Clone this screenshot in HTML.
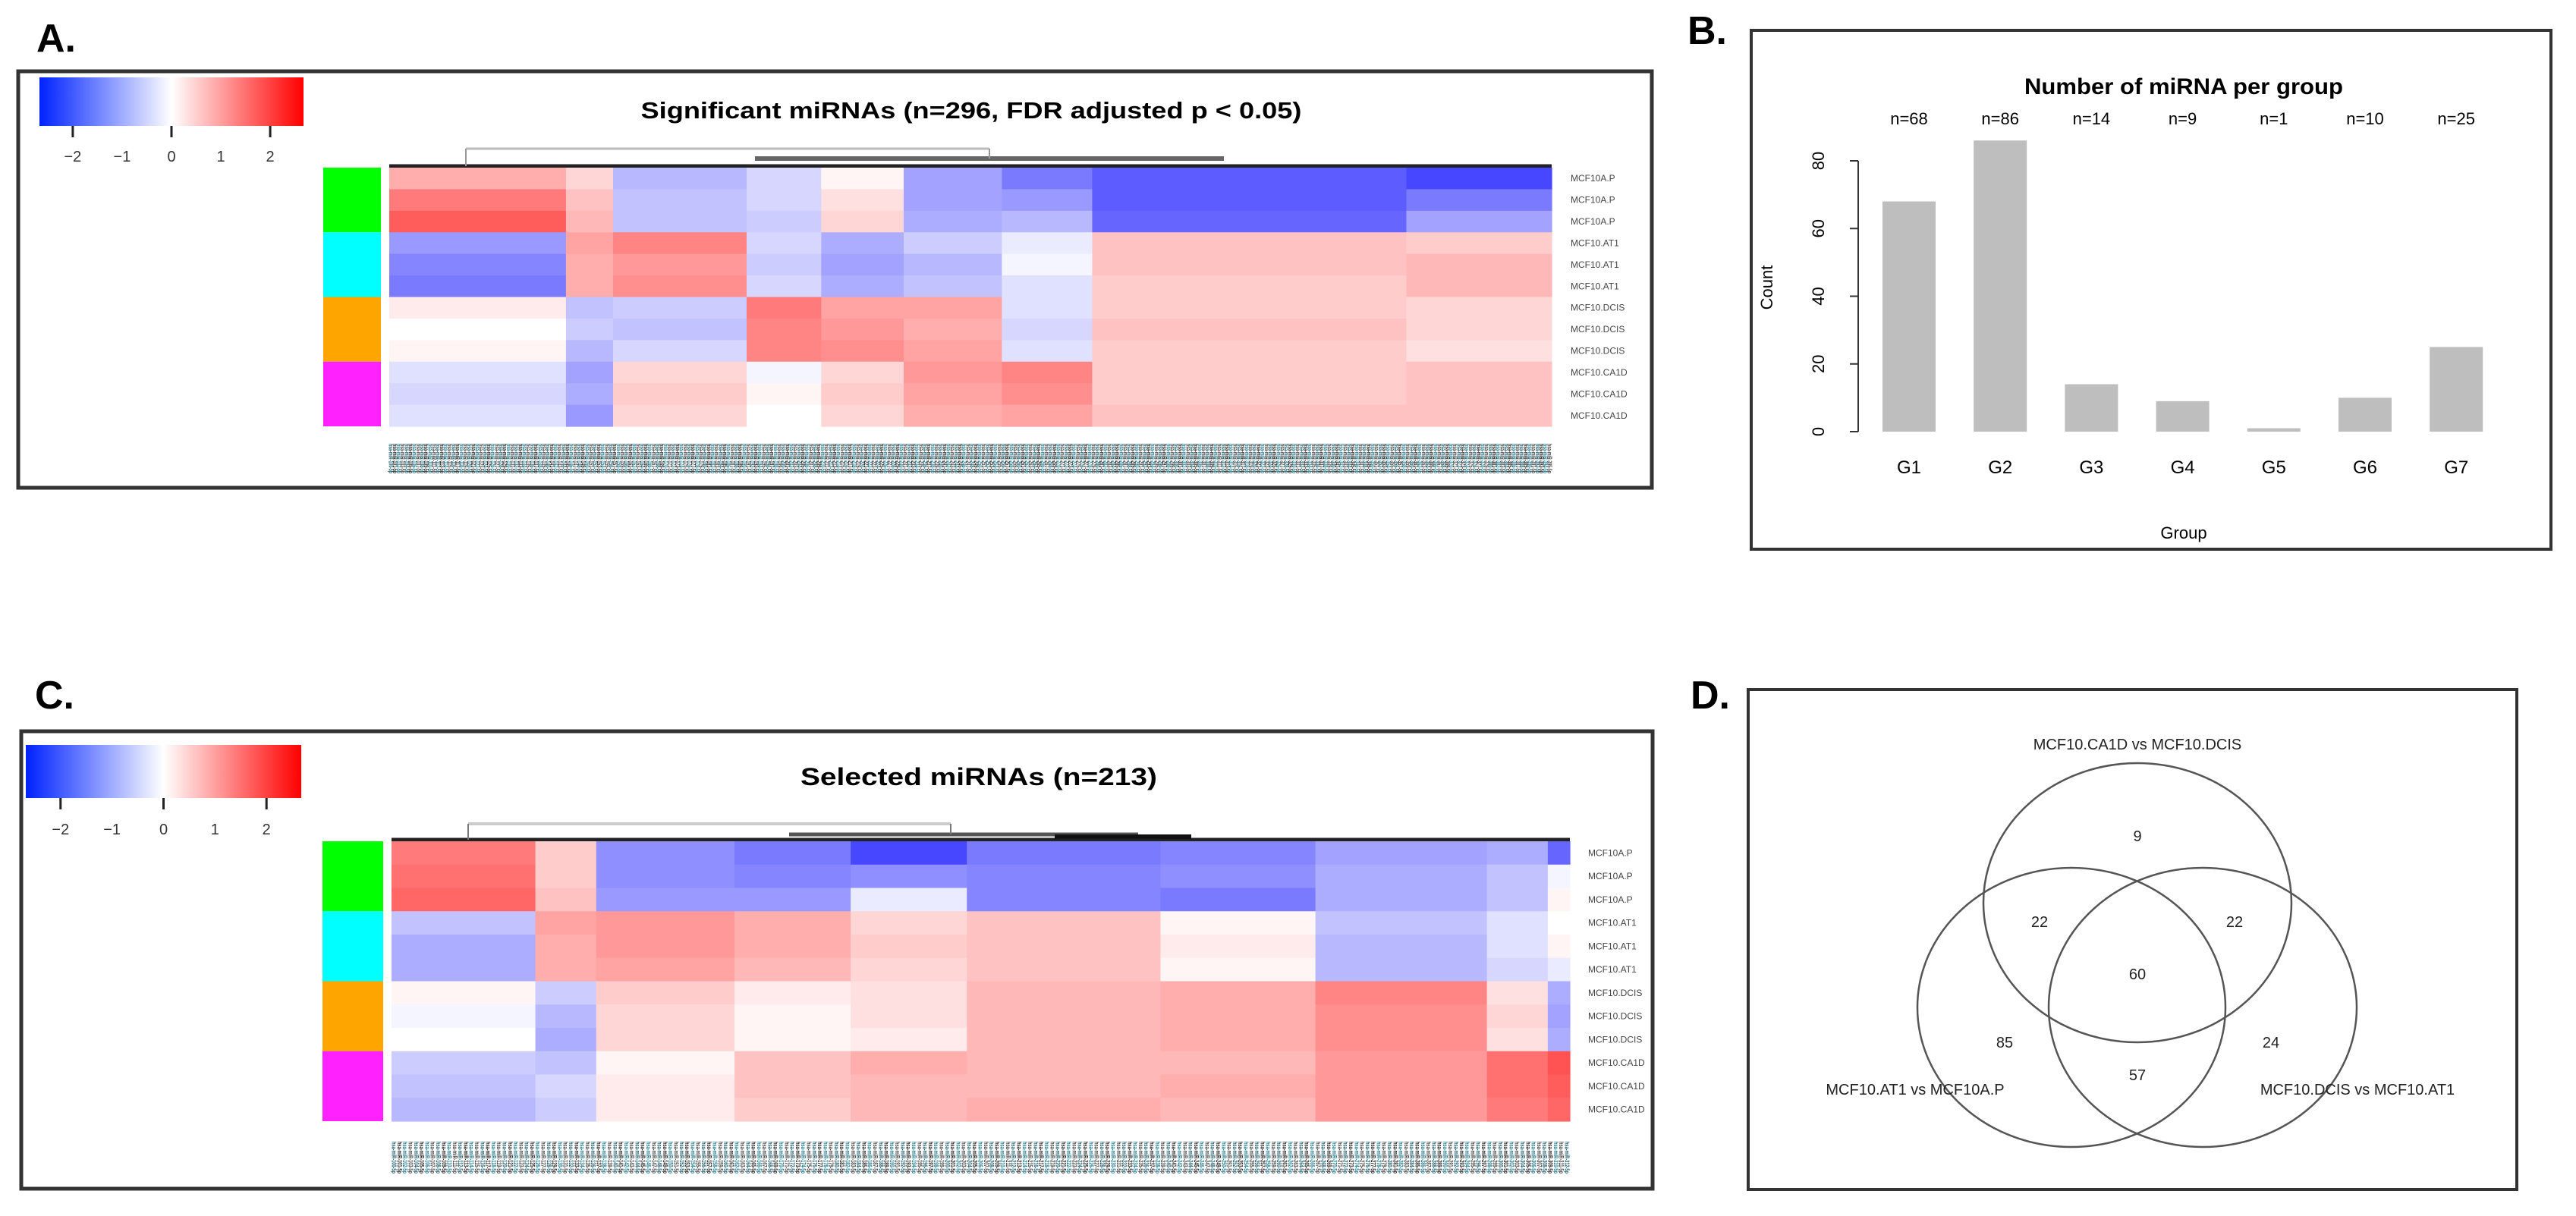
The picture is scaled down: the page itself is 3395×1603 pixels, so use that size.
<!DOCTYPE html>
<html><head><meta charset="utf-8"><style>
html,body{margin:0;padding:0;background:#fff;}
svg{display:block;font-family:"Liberation Sans",sans-serif;}
</style></head><body>
<svg id="fig" width="3395" height="1603" viewBox="0 0 3395 1603" xmlns="http://www.w3.org/2000/svg">
<defs>
<linearGradient id="cbar" x1="0" x2="1" y1="0" y2="0">
<stop offset="0" stop-color="#0022ff"/><stop offset="0.5" stop-color="#ffffff"/><stop offset="1" stop-color="#ff0000"/>
</linearGradient>
</defs>
<text x="48" y="68" font-size="52" font-weight="bold">A.</text>
<text x="2224" y="58" font-size="52" font-weight="bold">B.</text>
<text x="46" y="934" font-size="52" font-weight="bold">C.</text>
<text x="2228" y="934" font-size="52" font-weight="bold">D.</text>

<g>
<rect x="24" y="94" width="2153" height="549" fill="none" stroke="#333" stroke-width="5"/>
<rect x="52" y="102" width="348" height="64" fill="url(#cbar)"/>
<g id="keyA"></g>
<text x="1280" y="156" font-size="31" font-weight="bold" text-anchor="middle" textLength="871" lengthAdjust="spacingAndGlyphs">Significant miRNAs (n=296, FDR adjusted p &lt; 0.05)</text>
<g id="dendA"></g>
<g id="sideA"></g>
<g id="heatA"></g>
<g id="rowsA"></g>
<g id="colsA"></g>
</g>

<g>
<rect x="28" y="964" width="2150" height="603" fill="none" stroke="#333" stroke-width="5"/>
<rect x="34" y="982" width="363" height="70" fill="url(#cbar)"/>
<g id="keyC"></g>
<text x="1290" y="1035" font-size="32" font-weight="bold" text-anchor="middle" textLength="470" lengthAdjust="spacingAndGlyphs">Selected miRNAs (n=213)</text>
<g id="dendC"></g>
<g id="sideC"></g>
<g id="heatC"></g>
<g id="rowsC"></g>
<g id="colsC"></g>
</g>

<g>
<rect x="2308" y="40" width="1054" height="684" fill="none" stroke="#333" stroke-width="4"/>
<text x="2878" y="124" font-size="30" font-weight="bold" text-anchor="middle" textLength="420" lengthAdjust="spacingAndGlyphs">Number of miRNA per group</text>
<g id="barsB"></g>
<text x="2336" y="379" font-size="22" text-anchor="middle" transform="rotate(-90 2336 379)">Count</text>
<text x="2878" y="710" font-size="22" text-anchor="middle">Group</text>
</g>

<g>
<rect x="2304" y="909" width="1013" height="659" fill="none" stroke="#333" stroke-width="4"/>
<g id="venn"></g>
</g>
</svg>
<script>
const groupNames = ["G1","G2","G3","G4","G5","G6","G7"];
const groupCounts = [68,86,14,9,1,10,25];
const yTicksB = [0,20,40,60,80];

const rowLabelsA = ["MCF10A.P","MCF10A.P","MCF10A.P","MCF10.AT1","MCF10.AT1","MCF10.AT1","MCF10.DCIS","MCF10.DCIS","MCF10.DCIS","MCF10.CA1D","MCF10.CA1D","MCF10.CA1D"];
const groupColors = ["#00ff00","#00ffff","#ffa500","#ff22ff"];
const keyTicks = [-2,-1,0,1,2];

const heatABlockCols = [45,12,34,19,21,25,23,80,37];
const heatAValues = [
 [0.8,1.3,1.6,-1.0,-1.2,-1.3,0.2,0.0,0.1,-0.3,-0.4,-0.3],
 [0.4,0.6,0.7,0.9,0.8,0.8,-0.6,-0.5,-0.7,-0.9,-0.8,-1.0],
 [-0.7,-0.6,-0.6,1.2,1.0,1.1,-0.5,-0.6,-0.4,0.4,0.5,0.4],
 [-0.4,-0.4,-0.5,-0.4,-0.5,-0.4,1.3,1.2,1.2,-0.1,0.1,0.0],
 [0.1,0.3,0.4,-0.8,-0.9,-0.8,0.9,1.0,1.1,0.4,0.5,0.4],
 [-0.9,-0.9,-0.8,-0.5,-0.7,-0.6,0.9,0.8,0.9,1.0,0.9,0.8],
 [-1.3,-1.0,-0.7,-0.2,-0.1,-0.3,-0.3,-0.4,-0.3,1.2,1.1,0.9],
 [-1.6,-1.6,-1.5,0.6,0.6,0.5,0.5,0.6,0.5,0.5,0.5,0.6],
 [-1.8,-1.3,-0.9,0.5,0.7,0.7,0.4,0.4,0.3,0.6,0.6,0.6]
];
const heatCBlockCols = [26,11,25,21,21,35,28,31,11,4];
const heatCValues = [
 [1.3,1.4,1.5,-0.6,-0.8,-0.8,0.1,-0.1,0.0,-0.5,-0.6,-0.7],
 [0.5,0.5,0.6,0.9,0.8,0.8,-0.5,-0.7,-0.8,-0.6,-0.4,-0.5],
 [-1.1,-1.1,-1.0,1.0,1.0,0.9,0.5,0.4,0.4,0.1,0.2,0.2],
 [-1.3,-1.2,-1.0,0.8,0.8,0.7,0.2,0.1,0.1,0.6,0.6,0.5],
 [-1.8,-1.1,-0.2,0.4,0.5,0.4,0.3,0.3,0.2,0.8,0.7,0.7],
 [-1.3,-1.2,-1.2,0.6,0.6,0.6,0.7,0.7,0.7,0.7,0.7,0.8],
 [-1.2,-1.1,-1.3,0.1,0.2,0.1,0.8,0.8,0.8,0.7,0.8,0.7],
 [-0.9,-0.8,-0.8,-0.6,-0.7,-0.7,1.2,1.1,1.1,1.0,1.0,1.0],
 [-0.8,-0.6,-0.6,-0.3,-0.3,-0.4,0.3,0.4,0.3,1.4,1.4,1.3],
 [-1.5,-0.1,0.1,0.0,0.1,-0.2,-0.8,-0.9,-0.8,1.7,1.6,1.5]
];

const vennSetLabels = ["MCF10.CA1D vs MCF10.DCIS","MCF10.AT1 vs MCF10A.P","MCF10.DCIS vs MCF10.AT1"];
const vennCounts = [9,22,22,60,85,24,57];

const NS = "http://www.w3.org/2000/svg";
function mk(tag, attrs, parent){
  const e = document.createElementNS(NS, tag);
  for (const k in attrs) e.setAttribute(k, attrs[k]);
  if (parent) parent.appendChild(e);
  return e;
}
function colorOf(v){
  const c = Math.max(-2.5, Math.min(2.5, v)); const t = Math.abs(c)/2.5;
  const m = Math.round(255*(1-t));
  return c < 0 ? `rgb(${m},${m},255)` : `rgb(255,${m},${m})`;
}

function colorKey(gId, x0, x1, yTop, labelY){
  const g = document.getElementById(gId);
  const scale = v => (x0+x1)/2 + v*(x1-x0)/5.35;
  keyTicks.forEach((v,i)=>{
    if (i%2===0){
      const t = mk('line',{x1:scale(v),x2:scale(v),y1:yTop,y2:yTop+15,stroke:'#222','stroke-width':3},g);
      
      
    }
    const tx = mk('text',{x:scale(v),y:labelY,'font-size':20,'text-anchor':'middle',fill:'#333'},g);
    tx.textContent = v===0 ? "0" : (v<0 ? "\u2212"+(-v) : String(v));
    
    
  });
}
colorKey('keyA', 52, 400, 166, 213);
colorKey('keyC', 34, 397, 1052, 1100);

function heatmap(ids, blockCols, values, x0, x1, y0, y1, sideX0, sideX1, labelX, colY0, colY1){
  const total = blockCols.reduce((a,b)=>a+b,0);
  const cw = (x1-x0)/total, rh = (y1-y0)/12;
  const gH = document.getElementById(ids[0]);
  let col = 0;
  blockCols.forEach((n,b)=>{
    values[b].forEach((v,r)=>{
      const c = mk('rect',{x:x0+col*cw,y:y0+r*rh,width:n*cw+0.6,height:rh+0.6,fill:colorOf(v)},gH);
      
      
    });
    col += n;
  });
  const gS = document.getElementById(ids[1]);
  groupColors.forEach((c,i)=>{
    const r = mk('rect',{x:sideX0,y:y0+i*3*rh,width:sideX1-sideX0,height:3*rh,fill:c},gS);
    
    
  });
  const gR = document.getElementById(ids[2]);
  rowLabelsA.forEach((l,i)=>{
    const t = mk('text',{x:labelX,y:y0+(i+0.5)*rh+4,'font-size':12,fill:'#444'},gR);
    t.textContent = l;
    
    
  });
  const gC = document.getElementById(ids[3]);
  const fills = ['#1f5f70','#222','#1f7a90','#444'];
  for (let i=0;i<total;i++){
    const cx = x0+(i+0.5)*cw - 3;
    const t = mk('text',{x:cx,y:colY0,'font-size':8,'font-weight':'bold',fill:fills[i%4],transform:`rotate(90 ${cx} ${colY0})`,textLength:colY1-colY0,lengthAdjust:'spacingAndGlyphs'},gC);
    t.textContent = "hsa-miR-"+(100+i)+"-5p";
    
    
  }
}
heatmap(['heatA','sideA','rowsA','colsA'], heatABlockCols, heatAValues, 513, 2045, 221, 562, 426, 502, 2070, 585, 624);
heatmap(['heatC','sideC','rowsC','colsC'], heatCBlockCols, heatCValues, 516, 2069, 1109, 1478, 425, 505, 2093, 1505, 1547);

(function(){
  const gA = document.getElementById('dendA');
  [[513,2045,219,'#222',5],[995,1613,209,'#666',6],[614,1304,196,'#bbb',3]].forEach(d=>{
    const l = mk('line',{x1:d[0],x2:d[1],y1:d[2],y2:d[2],stroke:d[3],'stroke-width':d[4]},gA);
    
    
  });
  mk('line',{x1:614,x2:614,y1:196,y2:219,stroke:'#999','stroke-width':2},gA);
  mk('line',{x1:1304,x2:1304,y1:196,y2:209,stroke:'#999','stroke-width':2},gA);
  const gC = document.getElementById('dendC');
  [[516,2069,1107,'#222',5],[1040,1500,1100,'#555',5],[1390,1570,1103,'#111',6],[617,1253,1086,'#ccc',4]].forEach(d=>{
    const l = mk('line',{x1:d[0],x2:d[1],y1:d[2],y2:d[2],stroke:d[3],'stroke-width':d[4]},gC);
    
    
  });
  mk('line',{x1:617,x2:617,y1:1086,y2:1107,stroke:'#777','stroke-width':2},gC);
  mk('line',{x1:1253,x2:1253,y1:1086,y2:1100,stroke:'#777','stroke-width':2},gC);
})();

(function(){
  const g = document.getElementById('barsB');
  const y = v => 569 - v*(569-212)/80;
  const xc = i => 2516 + i*120.2;
  const bw = 70;
  mk('line',{x1:2449,x2:2449,y1:y(0),y2:y(80),stroke:'#333','stroke-width':2},g);
  yTicksB.forEach(v=>{
    mk('line',{x1:2438,x2:2449,y1:y(v),y2:y(v),stroke:'#333','stroke-width':2},g);
    const t = mk('text',{x:2404,y:y(v),'font-size':22,'text-anchor':'middle',transform:`rotate(-90 2404 ${y(v)})`},g);
    t.textContent = v;
    
    
  });
  groupCounts.forEach((v,i)=>{
    const r = mk('rect',{x:xc(i)-bw/2,y:y(v),width:bw,height:y(0)-y(v),fill:'#bebebe'},g);
    
    
    const n = mk('text',{x:xc(i),y:164,'font-size':22,'text-anchor':'middle'},g);
    n.textContent = "n="+v;
    
    
    const gl = mk('text',{x:xc(i),y:624,'font-size':24,'text-anchor':'middle'},g);
    gl.textContent = groupNames[i];
    
    
  });
})();

(function(){
  const g = document.getElementById('venn');
  const circles = [[2817,1190],[2730,1328],[2903,1328]];
  circles.forEach((c,i)=>{
    const e = mk('ellipse',{cx:c[0],cy:c[1],rx:203,ry:184,fill:'none',stroke:'#555','stroke-width':2.5},g);
    
    
  });
  const setPos = [[2817,988],[2524,1443],[3107,1443]];
  vennSetLabels.forEach((l,i)=>{
    const t = mk('text',{x:setPos[i][0],y:setPos[i][1],'font-size':20,'text-anchor':'middle',fill:'#222'},g);
    t.textContent = l;
    
    
  });
  const cPos = [[2817,1109],[2688,1222],[2945,1222],[2817,1291],[2642,1381],[2993,1381],[2817,1424]];
  vennCounts.forEach((v,i)=>{
    const t = mk('text',{x:cPos[i][0],y:cPos[i][1],'font-size':20,'text-anchor':'middle',fill:'#222'},g);
    t.textContent = v;
    
    
  });
})();
</script>
</body></html>
